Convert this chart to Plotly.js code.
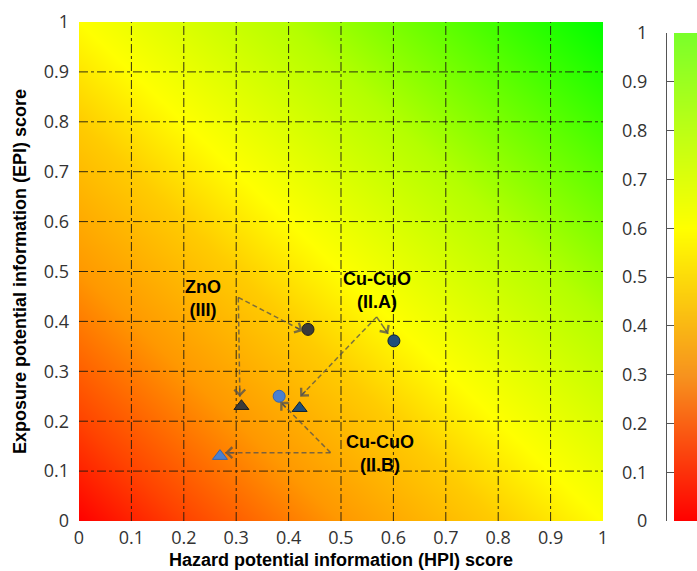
<!DOCTYPE html>
<html><head><meta charset="utf-8">
<script src="https://cdn.plot.ly/plotly-3.0.1.min.js"></script>
<style>html,body{margin:0;padding:0;background:#fff}</style>
</head><body><div id="chart" style="width:697px;height:571px"></div>
<script>
// ---- data ----
const axisTicks = [0, 0.1, 0.2, 0.3, 0.4, 0.5, 0.6, 0.7, 0.8, 0.9, 1];
const axisTickText = ['0', '0.1', '0.2', '0.3', '0.4', '0.5', '0.6', '0.7', '0.8', '0.9', '1'];
const gridVals = [0.1, 0.2, 0.3, 0.4, 0.5, 0.6, 0.7, 0.8, 0.9];

// background score surface (corner values, smoothly interpolated)
const bgX = [0, 1];
const bgY = [0, 1];
const bgZ = [[0, 0.5], [0.5, 1]];
// colour scale bar
const barX = [0, 1];
const barY = [0, 1];
const barZ = [[0, 0], [1, 1]];

// points: [circle, triangle]
const znoHPI = [0.437, 0.310];
const znoEPI = [0.384, 0.230];
const cuAHPI = [0.601, 0.421];
const cuAEPI = [0.361, 0.226];
const cuBHPI = [0.382, 0.269];
const cuBEPI = [0.250, 0.130];
const pointSymbols = ['circle', 'triangle-up'];

const labelText = ['ZnO<br>(III)', 'Cu-CuO<br>(II.A)', 'Cu-CuO<br>(II.B)'];
const labelHPI = [0.237, 0.569, 0.574];
const labelEPI = [0.445, 0.461, 0.135];

const arrowFromHPI = [0.304, 0.304, 0.568, 0.568, 0.480, 0.480];
const arrowFromEPI = [0.448, 0.448, 0.409, 0.409, 0.137, 0.137];
const arrowToHPI   = [0.427, 0.307, 0.590, 0.422, 0.279, 0.384];
const arrowToEPI   = [0.381, 0.249, 0.375, 0.249, 0.137, 0.239];

// ---- styles ----
const tickFont = {family: 'Open Sans, Liberation Sans, Arial, sans-serif', size: 18, color: '#333'};
const titleFont = {family: 'Liberation Sans, Arial, sans-serif', size: 18, color: '#000', weight: 'bold'};
const arrowColor = 'rgba(80,80,80,0.75)';
const pxX = 524, pxY = 499;

const traces = [];
traces.push({
  type: 'heatmap', x: bgX, y: bgY, z: bgZ, zsmooth: 'best', zmin: 0, zmax: 1,
  colorscale: [[0, '#ff0000'], [0.1, '#ff4200'], [0.25, '#ff9800'], [0.4, '#ffcc00'], [0.5, '#ffff00'],
               [0.7, '#b4ff00'], [0.85, '#5cff00'], [1, '#00ff00']],
  showscale: false, hoverinfo: 'skip', xaxis: 'x', yaxis: 'y'
});
// grid lines
const gx = [], gy = [];
gridVals.forEach(v => { gx.push(v, v, null); gy.push(0, 1, null); });
gridVals.forEach(v => { gx.push(0, 1, null); gy.push(v, v, null); });
traces.push({type: 'scatter', mode: 'lines', x: gx, y: gy,
  line: {color: 'rgba(30,25,15,0.9)', width: 1, dash: 'dashdot'}, hoverinfo: 'skip', showlegend: false});
// arrow lines
const ax_ = [], ay_ = [];
arrowFromHPI.forEach((v, i) => { ax_.push(v, arrowToHPI[i], null); ay_.push(arrowFromEPI[i], arrowToEPI[i], null); });
traces.push({type: 'scatter', mode: 'lines', x: ax_, y: ay_,
  line: {color: arrowColor, width: 1.5, dash: '5px,3px'}, hoverinfo: 'skip', showlegend: false});
// points
function pts(xs, ys, fill, edge) {
  return {type: 'scatter', mode: 'markers', x: xs, y: ys, showlegend: false, hoverinfo: 'skip',
    marker: {symbol: pointSymbols, size: [12, 13], color: fill, opacity: 1, line: {color: edge, width: 1}}};
}
traces.push(pts(znoHPI, znoEPI, '#3a3a3a', '#1e1e1e'));
traces.push(pts(cuAHPI, cuAEPI, '#1f4e79', '#0b2236'));
traces.push(pts(cuBHPI, cuBEPI, '#4a80d0', '#3565b0'));
// colour bar
traces.push({
  type: 'heatmap', x: barX, y: barY, z: barZ, zsmooth: 'best', zmin: 0, zmax: 1,
  colorscale: [[0, '#ff0000'], [0.3, '#f7931e'], [0.6, '#ffff00'], [1, '#7aff2a']],
  showscale: false, hoverinfo: 'skip', xaxis: 'x2', yaxis: 'y2'
});

const annotations = [];
labelText.forEach((t, i) => annotations.push({
  x: labelHPI[i], y: labelEPI[i], xref: 'x', yref: 'y', text: t, showarrow: false,
  font: {family: 'Liberation Sans, Arial, sans-serif', size: 18, color: '#000', weight: 'bold'},
  align: 'center'
}));
arrowToHPI.forEach((tx, i) => {
  const ty = arrowToEPI[i];
  const dx = arrowFromHPI[i] - tx, dy = arrowFromEPI[i] - ty;
  const len = Math.sqrt((dx * pxX) ** 2 + (dy * pxY) ** 2);
  const f = 10 / len;
  annotations.push({x: tx, y: ty, ax: tx + dx * f, ay: ty + dy * f, xref: 'x', yref: 'y', axref: 'x', ayref: 'y',
    text: '', showarrow: true, arrowhead: 4, arrowsize: 1.4, arrowwidth: 1.5, arrowcolor: arrowColor, standoff: 0});
});

const layout = {
  width: 697, height: 571,
  margin: {l: 79, r: 0, t: 22, b: 50},
  paper_bgcolor: '#fff', plot_bgcolor: '#fff',
  hovermode: false, showlegend: false,
  xaxis: {domain: [0, 524 / 618], range: [0, 1], tickvals: axisTicks, ticktext: axisTickText,
    showgrid: false, zeroline: false, showline: false, ticks: '', ticklabelstandoff: 4,
    tickfont: tickFont, fixedrange: true,
    title: {text: 'Hazard potential information (HPI) score', font: titleFont, standoff: 5}},
  yaxis: {domain: [0, 1], range: [0, 1], tickvals: axisTicks, ticktext: axisTickText,
    showgrid: false, zeroline: false, showline: false, ticks: '', ticklabelstandoff: 9,
    tickfont: tickFont, fixedrange: true,
    title: {text: 'Exposure potential information (EPI) score', font: titleFont, standoff: 12}},
  xaxis2: {domain: [595 / 618, 1], range: [0, 1], anchor: 'y2', visible: false, fixedrange: true},
  yaxis2: {domain: [0, 488 / 499], range: [0, 1], anchor: 'free', position: 587 / 618, side: 'left',
    tickvals: axisTicks, ticktext: axisTickText, showgrid: false, zeroline: false,
    showline: true, linecolor: '#555', linewidth: 1, ticks: 'inside', ticklen: 7, tickcolor: '#555',
    ticklabelstandoff: 15, tickfont: tickFont, fixedrange: true},
  annotations: annotations
};

Plotly.newPlot('chart', traces, layout, {displayModeBar: false, staticPlot: true});
</script></body></html>
